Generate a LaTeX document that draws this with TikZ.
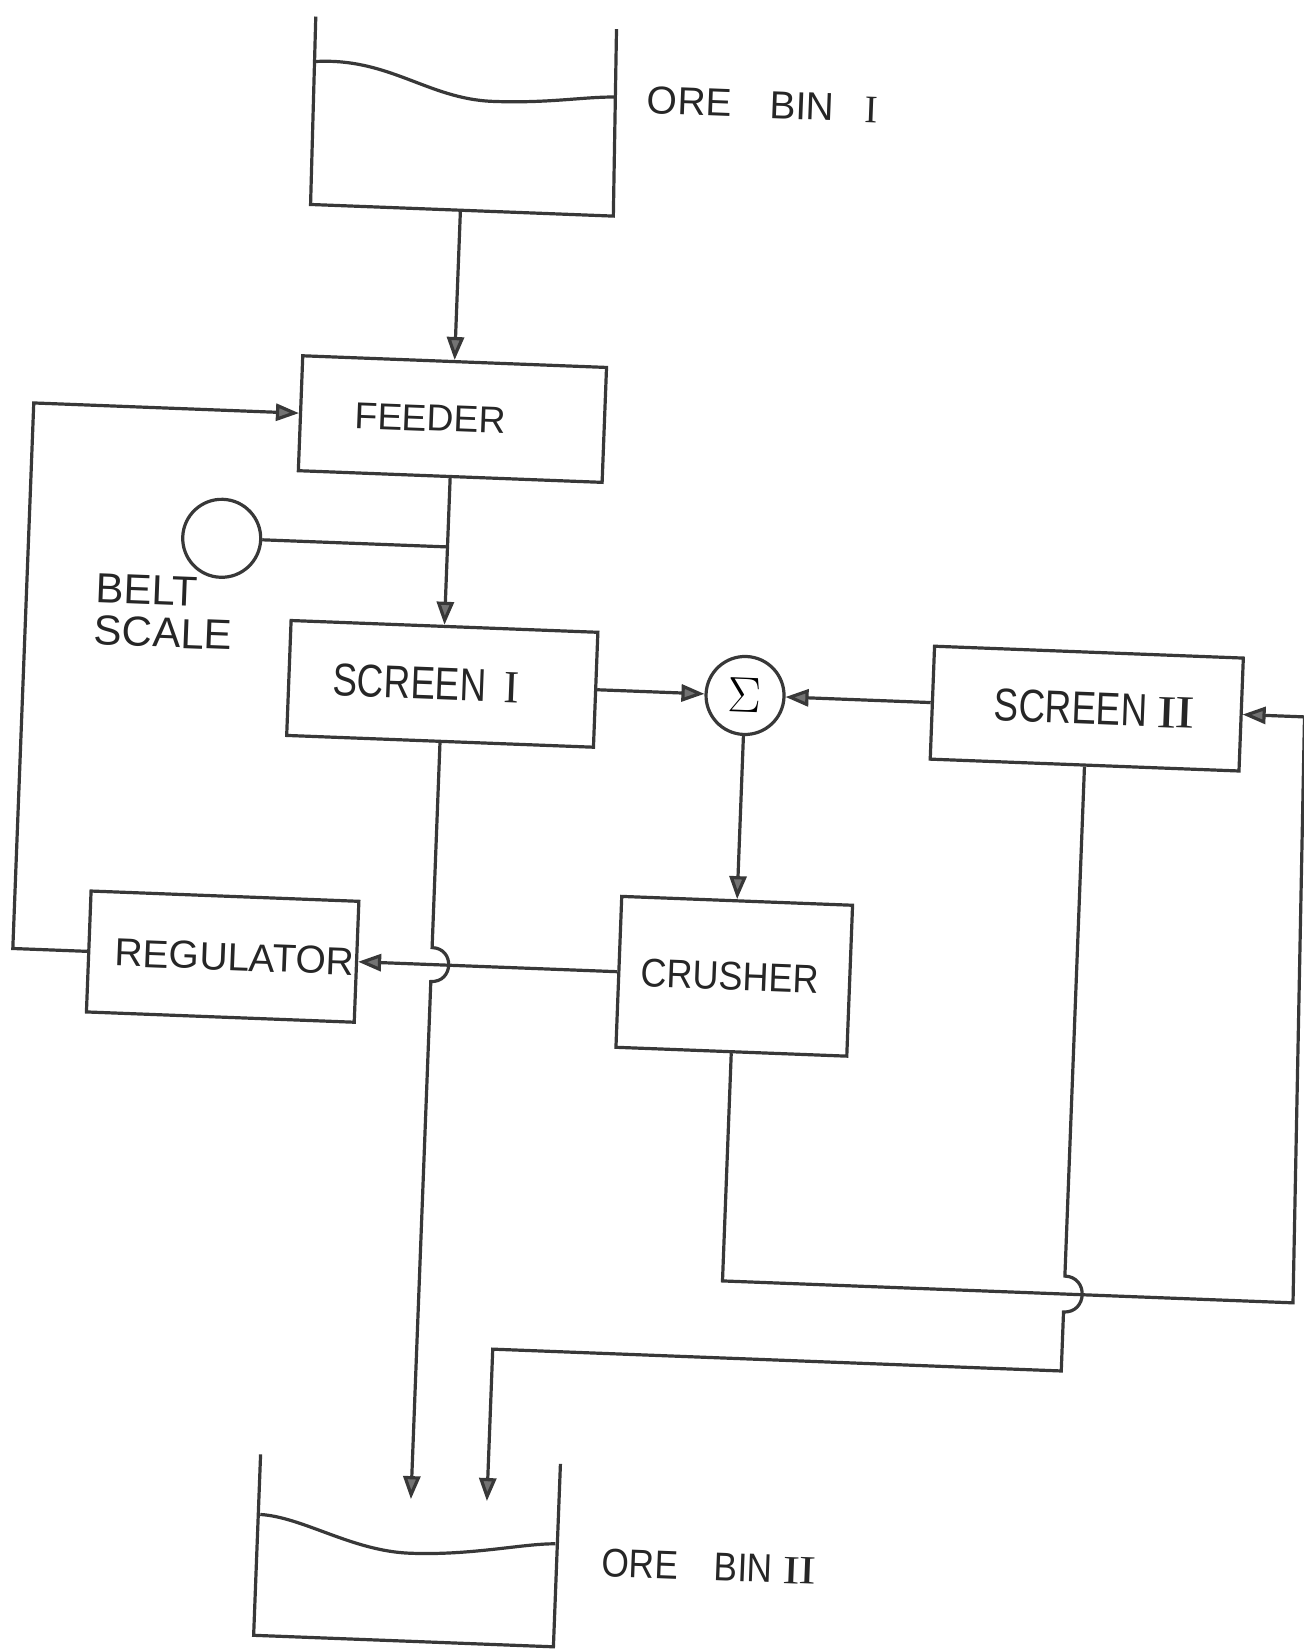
\documentclass[tikz,border=0pt]{standalone}
\usepackage{fontspec}
\setmainfont{Liberation Sans}
\newfontfamily\romfont{Liberation Serif}
\usepackage{graphicx}
\usetikzlibrary{arrows.meta}
\newcommand{\romI}{{\romfont I}}
\newcommand{\romII}{\scalebox{1.3}[1]{\romfont I\kern-0.03em I}}
\tikzset{
  ln/.style={line width=1.6pt, draw=black!78},
  arr/.style={ln, -{Triangle[length=11.5pt,width=8.5pt,fill=black!55]}},
  blk/.style={ln, rectangle, inner sep=0pt, transform shape, text=black!85},
  lbl/.style={inner sep=0pt, transform shape, text=black!85},
  ring/.style={ln, circle, inner sep=0pt, minimum size=39pt, transform shape},
}
\begin{document}
\begin{tikzpicture}[x=0.5pt,y=-0.5pt]
\useasboundingbox (0,0) rectangle (1304,1649);
\fill[white] (0,0) rectangle (1304,1649);
\begin{scope}[rotate around={-2.2:(652,825)}]
% ---------- ORE BIN I ----------
\draw[ln] (285,30) -- (287,218) -- (590,218) -- (586,31);
\draw[ln] (286,75) .. controls (360,68) and (400,108) .. (465,108)
               .. controls (520,108) and (555,100) .. (586,99);
\coordinate (bin1out) at (437,218);
\node[lbl, anchor=west, font=\fontsize{19.5pt}{22pt}\selectfont] (bin1lbl) at (619,101)
  {ORE\hspace{19pt}BIN\hspace{15pt}\romI};
% ---------- blocks ----------
\node[blk, minimum width=152pt, minimum height=57.5pt, font=\fontsize{18.7pt}{22pt}\selectfont]
  (feeder) at (437,427) {FEEDER\kern22pt};
\node[blk, minimum width=153.5pt, minimum height=57.5pt, font=\fontsize{23pt}{26pt}\selectfont]
  (screen1) at (437,692) {\scalebox{0.8}[1]{SCREEN}\hspace{9pt}\romI\kern16pt};
\node[blk, minimum width=154.5pt, minimum height=56.5pt, font=\fontsize{23pt}{26pt}\selectfont]
  (screen2) at (1082,692) {\kern8pt\scalebox{0.8}[1]{SCREEN}\hspace{5pt}\romII};
\node[blk, minimum width=115.5pt, minimum height=75.5pt, font=\fontsize{20pt}{24pt}\selectfont]
  (crusher) at (740,973) {\scalebox{0.9}[1]{CRUSHER}\kern4pt};
\node[blk, minimum width=134pt, minimum height=60.5pt, font=\fontsize{19.5pt}{22pt}\selectfont]
  (regulator) at (228,973) {\kern12pt REGULATOR};
\node[ring] (scale) at (211,555) {};
\node[ring, font=\fontsize{23pt}{24pt}\selectfont] (sum) at (740,692) {$\Sigma$};
\node[lbl, anchor=west, align=left, font=\fontsize{21pt}{21pt}\selectfont] (scalelbl) at (87,631)
  {BELT\\SCALE};
% ---------- ORE BIN II ----------
\draw[ln] (285,1469) -- (285,1650) -- (585,1650) -- (585,1467);
\draw[ln] (287,1529) .. controls (330,1530) and (380,1562) .. (438,1562)
               .. controls (500,1562) and (550,1548) .. (583,1547);
\node[lbl, anchor=west, font=\fontsize{20pt}{22pt}\selectfont] (bin2lbl) at (630,1564)
  {\scalebox{0.88}[1]{ORE}\hspace{18pt}\scalebox{0.88}[1]{BIN}\hspace{5pt}\romII};
% ---------- coordinates ----------
\coordinate (tap) at (437,555);
\coordinate (fbl) at (18,973);
\coordinate (fbt) at (18,427);
\coordinate (h1a) at (437,956);
\coordinate (h1c) at (460,956);
\coordinate (h1d) at (460,990);
\coordinate (h1b) at (437,990);
\coordinate (bin2in1) at (437,1508);
\coordinate (cl1) at (740,1278);
\coordinate (cl2) at (1311,1278);
\coordinate (cl3) at (1300,692);
\coordinate (h2a) at (1082,1260);
\coordinate (h2c) at (1106,1260);
\coordinate (h2d) at (1106,1296);
\coordinate (h2b) at (1082,1296);
\coordinate (s2c1) at (1082,1355);
\coordinate (s2c2) at (513,1355);
\coordinate (bin2in2) at (513,1507);
% ---------- connectors ----------
\draw[arr] (bin1out) -- (feeder.north);
\draw[arr] (feeder.south) -- (screen1.north);
\draw[ln] (scale.east) -- (tap);
\draw[arr] (regulator.west) -- (fbl) -- (fbt) -- (feeder.west);
\draw[arr] (screen1.east) -- (sum.west);
\draw[arr] (screen2.west) -- (sum.east);
\draw[arr] (sum.south) -- (crusher.north);
\draw[arr] (crusher.west) -- (regulator.east);
\draw[arr] (screen1.south) -- (h1a) .. controls (h1c) and (h1d) .. (h1b) -- (bin2in1);
\draw[arr] (crusher.south) -- (cl1) -- (cl2) -- (cl3) -- (screen2.east);
\draw[arr] (screen2.south) -- (h2a) .. controls (h2c) and (h2d) .. (h2b) -- (s2c1) -- (s2c2) -- (bin2in2);
\end{scope}
\end{tikzpicture}
\end{document}
